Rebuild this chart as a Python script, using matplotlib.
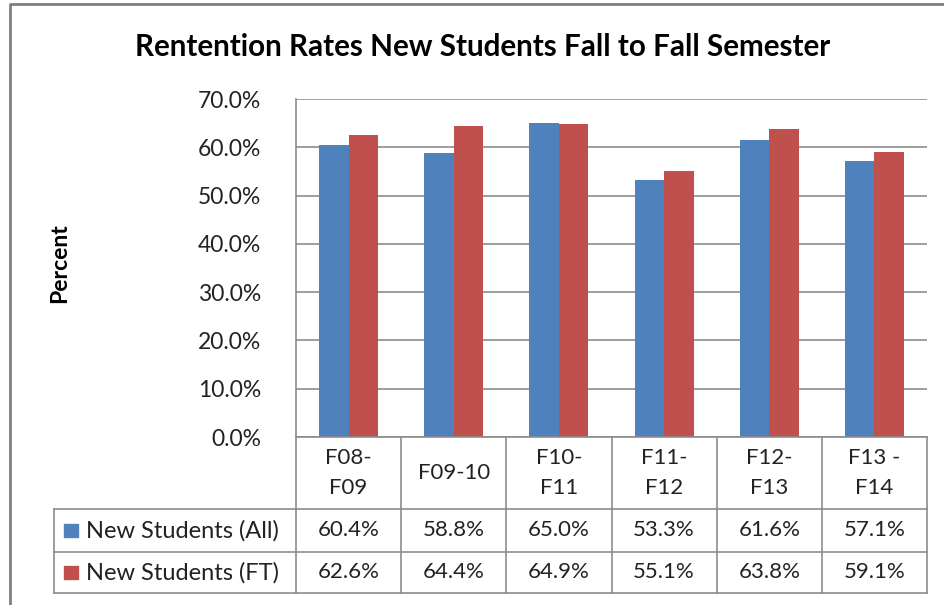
import numpy as np
import matplotlib
matplotlib.use("Agg")
import matplotlib.pyplot as plt
from matplotlib.patches import Rectangle
from matplotlib.lines import Line2D
import matplotlib.transforms as mtransforms

# ==============================
# Data
# ==============================
categories = ["F08-\nF09", "F09-10", "F10-\nF11", "F11-\nF12", "F12-\nF13", "F13 -\nF14"]
series_names = ["New Students (All)", "New Students (FT)"]
all_students = [60.4, 58.8, 65.0, 53.3, 61.6, 57.1]
ft_students = [62.6, 64.4, 64.9, 55.1, 63.8, 59.1]
colors = ["#4F81BD", "#C0504D"]
yticks = [0, 10, 20, 30, 40, 50, 60, 70]

FONT = "Lato"
GRID = "#8C8C8C"
TXT = "#222222"
W, H = 945, 605

plt.rcParams["font.family"] = [FONT, "DejaVu Sans"]

fig = plt.figure(figsize=(W / 100, H / 100), dpi=100)

# plot area in pixels
px_left, px_right, px_top, px_bottom = 296, 927, 99, 437
ax = fig.add_axes([px_left / W, 1 - px_bottom / H,
                   (px_right - px_left) / W, (px_bottom - px_top) / H])

x = np.arange(len(categories))
bw = 0.28
ax.bar(x - bw / 2, all_students, bw, color=colors[0], zorder=3)
ax.bar(x + bw / 2, ft_students, bw, color=colors[1], zorder=3)

ax.set_xlim(-0.5, len(categories) - 0.5)
ax.set_ylim(0, 70)
ax.set_yticks(yticks)
ax.set_yticklabels([f"{t:.1f}%" for t in yticks], fontsize=16.5, color=TXT)
ax.set_xticks([])
ax.tick_params(axis="y", length=0, pad=25)
ax.yaxis.grid(True, color=GRID, linewidth=1.2, zorder=0)
for s in ["top", "right", "bottom"]:
    ax.spines[s].set_visible(False)
ax.spines["left"].set_color(GRID)
ax.spines["left"].set_linewidth(1.2)

fig.text(60 / W, 1 - 263 / H, "Percent", rotation=90, ha="center", va="center",
         fontsize=16.5, fontweight="bold")

fig.text(483 / W, 1 - 47 / H, "Rentention Rates New Students Fall to Fall Semester",
         ha="center", va="center", fontsize=21.3, fontweight="bold")

# ==============================
# Data table below the plot
# ==============================
def fy(py):
    return 1 - py / H

trans = mtransforms.blended_transform_factory(ax.transData, fig.transFigure)
y_head_top, y_head_bot, y_row_mid, y_tab_bot = 437, 509, 552, 593
lw = 1.2

def hline(x0, x1, py, t):
    fig.add_artist(Line2D([x0, x1], [fy(py), fy(py)], transform=t, color=GRID, lw=lw))

def vline(xx, py0, py1, t):
    fig.add_artist(Line2D([xx, xx], [fy(py0), fy(py1)], transform=t, color=GRID, lw=lw))

n = len(categories)
hline(-0.5, n - 0.5, y_head_top, trans)
for py in [y_head_bot, y_row_mid, y_tab_bot]:
    hline(54 / W, px_left / W, py, fig.transFigure)
    hline(-0.5, n - 0.5, py, trans)
for i in range(n + 1):
    vline(i - 0.5, y_head_top, y_tab_bot, trans)
vline(54 / W, y_head_bot, y_tab_bot, fig.transFigure)

for i, c in enumerate(categories):
    fig.text(i, fy((y_head_top + y_head_bot) / 2), c, transform=trans,
             ha="center", va="center", fontsize=16, linespacing=1.65, color=TXT)

rows = [all_students, ft_students]
row_bounds = [(y_head_bot, y_row_mid), (y_row_mid, y_tab_bot)]
for r, (vals, (p0, p1)) in enumerate(zip(rows, row_bounds)):
    yc = fy((p0 + p1) / 2)
    for i, v in enumerate(vals):
        fig.text(i, yc, f"{v:.1f}%", transform=trans, ha="center", va="center",
                 fontsize=16, color=TXT)
    fig.add_artist(Rectangle((64 / W, yc - 6.5 / H), 14 / W, 13 / H,
                             transform=fig.transFigure, color=colors[r]))
    fig.text(86 / W, yc, series_names[r], ha="left", va="center",
             fontsize=17, color=TXT)

# outer chart border
fig.add_artist(Line2D([10 / W, 10 / W, 1.01], [-0.01, fy(4), fy(4)],
                      transform=fig.transFigure, color="#7F7F7F", lw=2))

fig.savefig("out.png", dpi=100)
